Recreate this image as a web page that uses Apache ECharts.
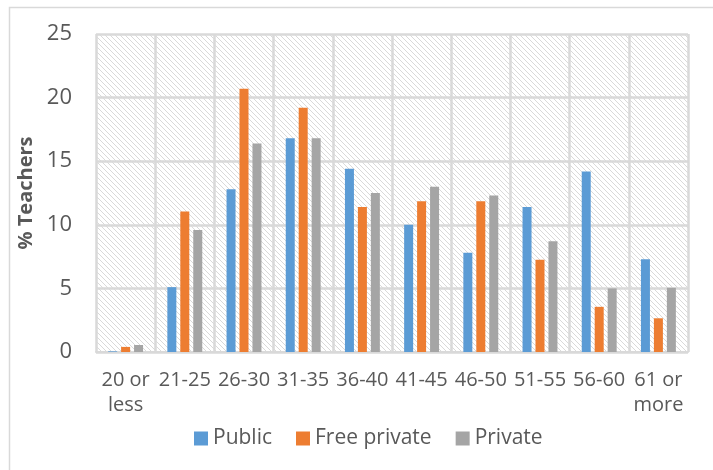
<!DOCTYPE html>
<html>
<head>
<meta charset="utf-8">
<script src="https://cdn.jsdelivr.net/npm/echarts@6/dist/echarts.min.js"></script>
<style>
html,body{margin:0;padding:0;background:#fff;}
#chart{width:713px;height:470px;}
</style>
</head>
<body>
<div id="chart"></div>
<script>
const categories = ['20 or\nless','21-25','26-30','31-35','36-40','41-45','46-50','51-55','56-60','61 or\nmore'];
const publicVals = [0.05, 5.1, 12.8, 16.8, 14.4, 10.0, 7.8, 11.4, 14.2, 7.3];
const freePrivateVals = [0.4, 11.05, 20.7, 19.2, 11.4, 11.85, 11.85, 7.25, 3.55, 2.65];
const privateVals = [0.55, 9.6, 16.4, 16.8, 12.5, 13.0, 12.3, 8.7, 5.0, 5.05];
const yTicks = [0, 5, 10, 15, 20, 25];

const pc = document.createElement('canvas');
pc.width = 5; pc.height = 5;
const ctx = pc.getContext('2d');
ctx.fillStyle = '#ffffff';
ctx.fillRect(0,0,5,5);
ctx.fillStyle = '#d9d9d9';
for (let i = 0; i < 5; i++) ctx.fillRect(i, i, 1, 1);

const font = 'Open Sans';
const chart = echarts.init(document.getElementById('chart'));
chart.setOption({
  animation: false,
  textStyle: {fontFamily: font},
  graphic: [{
    type: 'rect', left: 7, top: 5, silent: true,
    shape: {width: 720, height: 480},
    style: {fill: 'none', stroke: '#d9d9d9', lineWidth: 1.5}
  }],
  grid: {
    left: 96, right: 25, top: 34, bottom: 118,
    show: true,
    backgroundColor: {image: pc, repeat: 'repeat'},
    borderWidth: 0
  },
  legend: {
    left: 189, top: 423,
    itemWidth: 14, itemHeight: 14, itemGap: 24,
    icon: 'rect',
    textStyle: {fontSize: 21, color: '#595959', fontFamily: font},
    data: ['Public', 'Free private', 'Private']
  },
  xAxis: {
    type: 'category',
    data: categories,
    axisLine: {show: true, lineStyle: {color: '#d9d9d9', width: 2}},
    axisTick: {show: false},
    splitLine: {show: true, interval: 0, lineStyle: {color: '#d9d9d9', width: 2.5}},
    axisLabel: {interval: 0, fontSize: 20, color: '#595959', margin: 16, lineHeight: 25, fontFamily: font}
  },
  yAxis: {
    type: 'value',
    min: 0, max: 25, interval: 5,
    name: '% Teachers',
    nameLocation: 'middle',
    nameGap: 60,
    nameTextStyle: {fontSize: 20, fontWeight: 'bold', color: '#595959', fontFamily: font},
    axisLine: {show: false},
    axisTick: {show: false},
    splitLine: {show: true, lineStyle: {color: '#d9d9d9', width: 2.5}},
    axisLabel: {fontSize: 22, color: '#595959', margin: 24, fontFamily: font,
      formatter: v => yTicks.includes(v) ? String(v) : ''}
  },
  series: [
    {name: 'Public', type: 'bar', data: publicVals, barWidth: 9, barGap: '44%', itemStyle: {color: '#5B9BD5'}},
    {name: 'Free private', type: 'bar', data: freePrivateVals, barWidth: 9, barGap: '44%', itemStyle: {color: '#ED7D31'}},
    {name: 'Private', type: 'bar', data: privateVals, barWidth: 9, barGap: '44%', itemStyle: {color: '#A5A5A5'}}
  ]
});
</script>
</body>
</html>
